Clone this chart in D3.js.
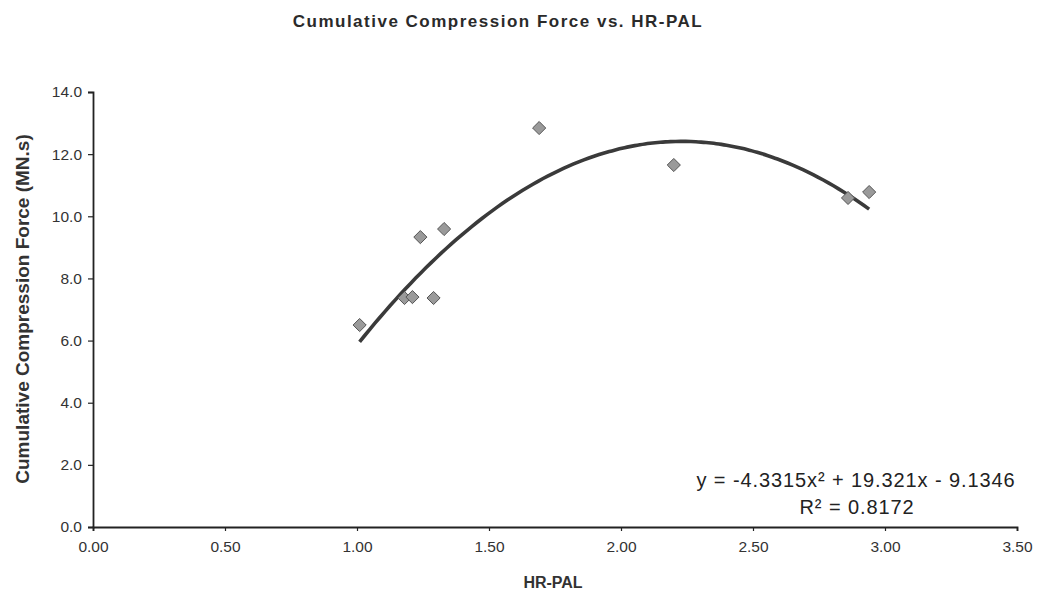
<!DOCTYPE html>
<html>
<head>
<meta charset="utf-8">
<script src="https://cdn.jsdelivr.net/npm/d3@7"></script>
<style>
  html, body { margin: 0; padding: 0; background: #fff; }
  svg { display: block; }
</style>
</head>
<body>
<svg id="chart" width="1042" height="597"></svg>
<script>
// ---- data ----
const hrPal = [1.01, 1.18, 1.21, 1.29, 1.24, 1.33, 1.69, 2.20, 2.86, 2.94];
const force = [6.50, 7.37, 7.40, 7.37, 9.33, 9.59, 12.84, 11.65, 10.59, 10.78];
const trendCoef = [-4.3315, 19.321, -9.1346]; // a, b, c of displayed trendline
const trendRange = [1.01, 2.94];
const xTicks = [0, 0.5, 1.0, 1.5, 2.0, 2.5, 3.0, 3.5];
const yTicks = [0, 2, 4, 6, 8, 10, 12, 14];
const titleText = "Cumulative Compression Force vs. HR-PAL";
const xTitle = "HR-PAL";
const yTitle = "Cumulative Compression Force (MN.s)";

// ---- layout ----
const svg = d3.select("#chart");
const mLeft = 93, mRight = 1017, mTop = 92, mBottom = 527;
const x = d3.scaleLinear().domain([0, 3.5]).range([mLeft, mRight]);
const y = d3.scaleLinear().domain([0, 14]).range([mBottom, mTop]);
const font = "'Liberation Sans', Arial, sans-serif";

// title
svg.append("text")
  .attr("x", 498).attr("y", 27)
  .attr("text-anchor", "middle")
  .attr("font-family", font).attr("font-weight", "bold")
  .attr("font-size", 17).attr("letter-spacing", 1.5)
  .attr("fill", "#2a2a2a")
  .text(titleText);

// axes
const xAxis = d3.axisBottom(x).tickValues(xTicks).tickFormat(d3.format(".2f")).tickSize(4).tickPadding(10);
const yAxis = d3.axisLeft(y).tickValues(yTicks).tickFormat(d3.format(".1f")).tickSize(5).tickPadding(6);

const gx = svg.append("g").attr("transform", `translate(0,${mBottom})`).call(xAxis);
const gy = svg.append("g").attr("transform", `translate(${mLeft},0)`).call(yAxis);

[gx, gy].forEach(g => {
  g.select(".domain").attr("stroke", "#222").attr("stroke-width", 1.8);
  g.selectAll(".tick line").attr("stroke", "#222").attr("stroke-width", 1.2);
  g.selectAll(".tick text").attr("font-family", font).attr("font-size", 15.5).attr("fill", "#333");
});

// axis titles
svg.append("text")
  .attr("x", 553).attr("y", 588)
  .attr("text-anchor", "middle")
  .attr("font-family", font).attr("font-weight", "bold")
  .attr("font-size", 16).attr("fill", "#333")
  .text(xTitle);

svg.append("text")
  .attr("transform", "translate(29,309) rotate(-90)")
  .attr("text-anchor", "middle")
  .attr("font-family", font).attr("font-weight", "bold")
  .attr("font-size", 19).attr("fill", "#333")
  .text(yTitle);

// trendline
const tx = d3.range(0, 101).map(i => trendRange[0] + (trendRange[1] - trendRange[0]) * i / 100);
const trend = tx.map(v => [v, trendCoef[0] * v * v + trendCoef[1] * v + trendCoef[2]]);
svg.append("path")
  .datum(trend)
  .attr("fill", "none")
  .attr("stroke", "#3a3a3a")
  .attr("stroke-width", 3.6)
  .attr("d", d3.line().x(d => x(d[0])).y(d => y(d[1])).curve(d3.curveMonotoneX));

// markers (diamonds)
const diamond = d3.symbol().type(d3.symbolDiamond2 || d3.symbolDiamond).size(110);
svg.append("g").selectAll("path")
  .data(hrPal.map((v, i) => [v, force[i]]))
  .join("path")
  .attr("transform", d => `translate(${x(d[0])},${y(d[1])})`)
  .attr("d", diamond)
  .attr("fill", "#9a9a9a")
  .attr("stroke", "#555")
  .attr("stroke-width", 1);

// equation labels
svg.append("text")
  .attr("x", 856).attr("y", 487)
  .attr("text-anchor", "middle")
  .attr("font-family", font).attr("font-size", 20).attr("letter-spacing", 0.9).attr("fill", "#222")
  .text("y = -4.3315x² + 19.321x - 9.1346");
svg.append("text")
  .attr("x", 857).attr("y", 514)
  .attr("text-anchor", "middle")
  .attr("font-family", font).attr("font-size", 20).attr("letter-spacing", 0.9).attr("fill", "#222")
  .text("R² = 0.8172");
</script>
</body>
</html>
